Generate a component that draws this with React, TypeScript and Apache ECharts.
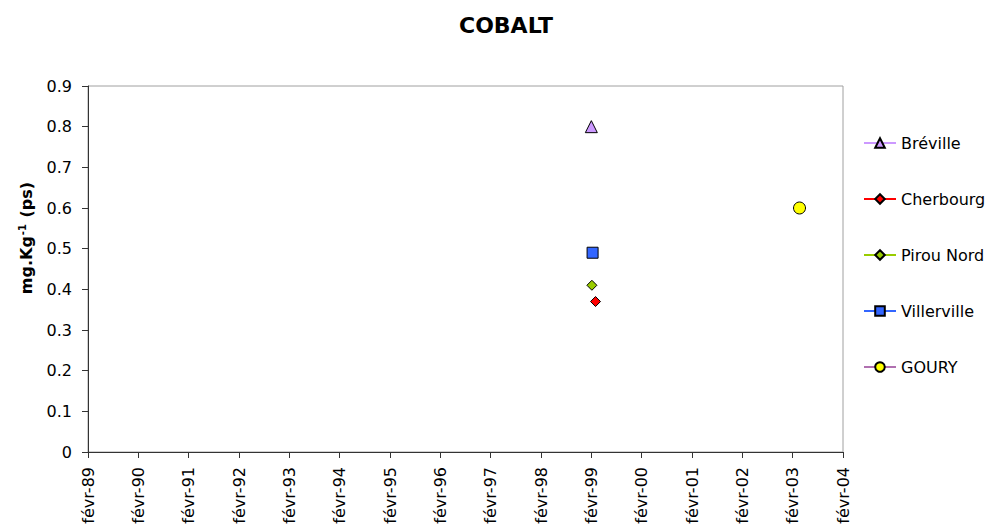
import React, { useEffect, useRef } from "react";
import * as echarts from "echarts";

const seriesNames = ["Bréville", "Cherbourg", "Pirou Nord", "Villerville", "GOURY"];
const seriesDates = [["1999-02-01"], ["1999-03-01"], ["1999-02-05"], ["1999-02-10"], ["2003-03-20"]];
const seriesValues = [[0.8], [0.37], [0.41], [0.49], [0.6]];
const symbols = ["triangle", "diamond", "diamond", "rect", "circle"];
const symbolSizes = [12, 10, 10, 11, 12];
const fillColors = ["#cc99ff", "#ff0000", "#99cc00", "#3366ff", "#ffff00"];
const lineColors = ["#cc99ff", "#ff0000", "#99cc00", "#3366ff", "#b070b0"];
const yTicks = [0, 0.1, 0.2, 0.3, 0.4, 0.5, 0.6, 0.7, 0.8, 0.9];

const START_YEAR = 1989;
const START_MONTH = 2;

function toMonths(d: string): number {
  const [y, m, day] = d.split("-").map(Number);
  return (y - START_YEAR) * 12 + (m - START_MONTH) + (day - 1) / 30;
}

export default function App() {
  const ref = useRef<HTMLDivElement>(null);
  useEffect(() => {
    if (!ref.current) return;
    const chart = echarts.init(ref.current, undefined, { renderer: "svg" });
    const font = "DejaVu Sans, Verdana, sans-serif";
    chart.setOption({
      animation: false,
      title: {
        text: "COBALT",
        left: 501,
        textAlign: "center",
        top: 9,
        textStyle: { fontFamily: font, fontWeight: "bold", fontSize: 22, color: "#000" },
      },
      grid: {
        left: 88,
        right: 162,
        top: 86,
        bottom: 76,
        show: true,
        borderColor: "#a0a0a0",
        borderWidth: 1,
      },
      graphic: [
        {
          type: "text",
          x: 26,
          y: 238,
          rotation: Math.PI / 2,
          style: {
            text: "{a|mg.Kg}{s|-1}{a| (ps)}",
            align: "center",
            verticalAlign: "middle",
            rich: {
              a: { fontFamily: font, fontWeight: "bold", fontSize: 16, fill: "#000", color: "#000" },
              s: { fontFamily: font, fontWeight: "bold", fontSize: 10, fill: "#000", color: "#000", verticalAlign: "top", padding: [0, 1, 8, 1] },
            },
          },
        },
      ],
      legend: {
        orient: "vertical",
        left: 858,
        top: 130,
        itemWidth: 32,
        itemHeight: 12,
        itemGap: 40,
        textStyle: { fontFamily: font, fontSize: 16, color: "#000" },
        data: seriesNames,
      },
      xAxis: {
        type: "value",
        min: 0,
        max: 180,
        interval: 12,
        splitLine: { show: false },
        axisLine: { lineStyle: { color: "#333", width: 1 } },
        axisTick: { inside: false, length: 6, lineStyle: { color: "#333" } },
        axisLabel: {
          rotate: 90,
          fontFamily: font,
          fontSize: 16,
          color: "#000",
          margin: 15,
          formatter: (v: number) => {
            const y = START_YEAR + Math.round(v / 12);
            return "févr-" + String(y % 100).padStart(2, "0");
          },
        },
      },
      yAxis: {
        type: "value",
        min: yTicks[0],
        max: yTicks[yTicks.length - 1],
        interval: 0.1,
        splitLine: { show: false },
        axisLine: { show: true, lineStyle: { color: "#333", width: 1 } },
        axisTick: { show: true, length: 6, lineStyle: { color: "#333" } },
        axisLabel: {
          fontFamily: font,
          fontSize: 16,
          color: "#000",
          margin: 16,
          formatter: (v: number) => String(Math.round(v * 10) / 10),
        },
      },
      series: seriesNames.map((name, i) => ({
        name,
        type: "line",
        data: seriesDates[i].map((d, j) => [toMonths(d), seriesValues[i][j]]),
        symbol: symbols[i],
        symbolSize: symbolSizes[i],
        showSymbol: true,
        lineStyle: { color: lineColors[i], width: 1 },
        itemStyle: { color: fillColors[i], borderColor: "#000", borderWidth: 1 },
      })),
    });
    return () => chart.dispose();
  }, []);
  return <div ref={ref} style={{ width: 1005, height: 528, position: "absolute", left: 0, top: 0 }} />;
}
